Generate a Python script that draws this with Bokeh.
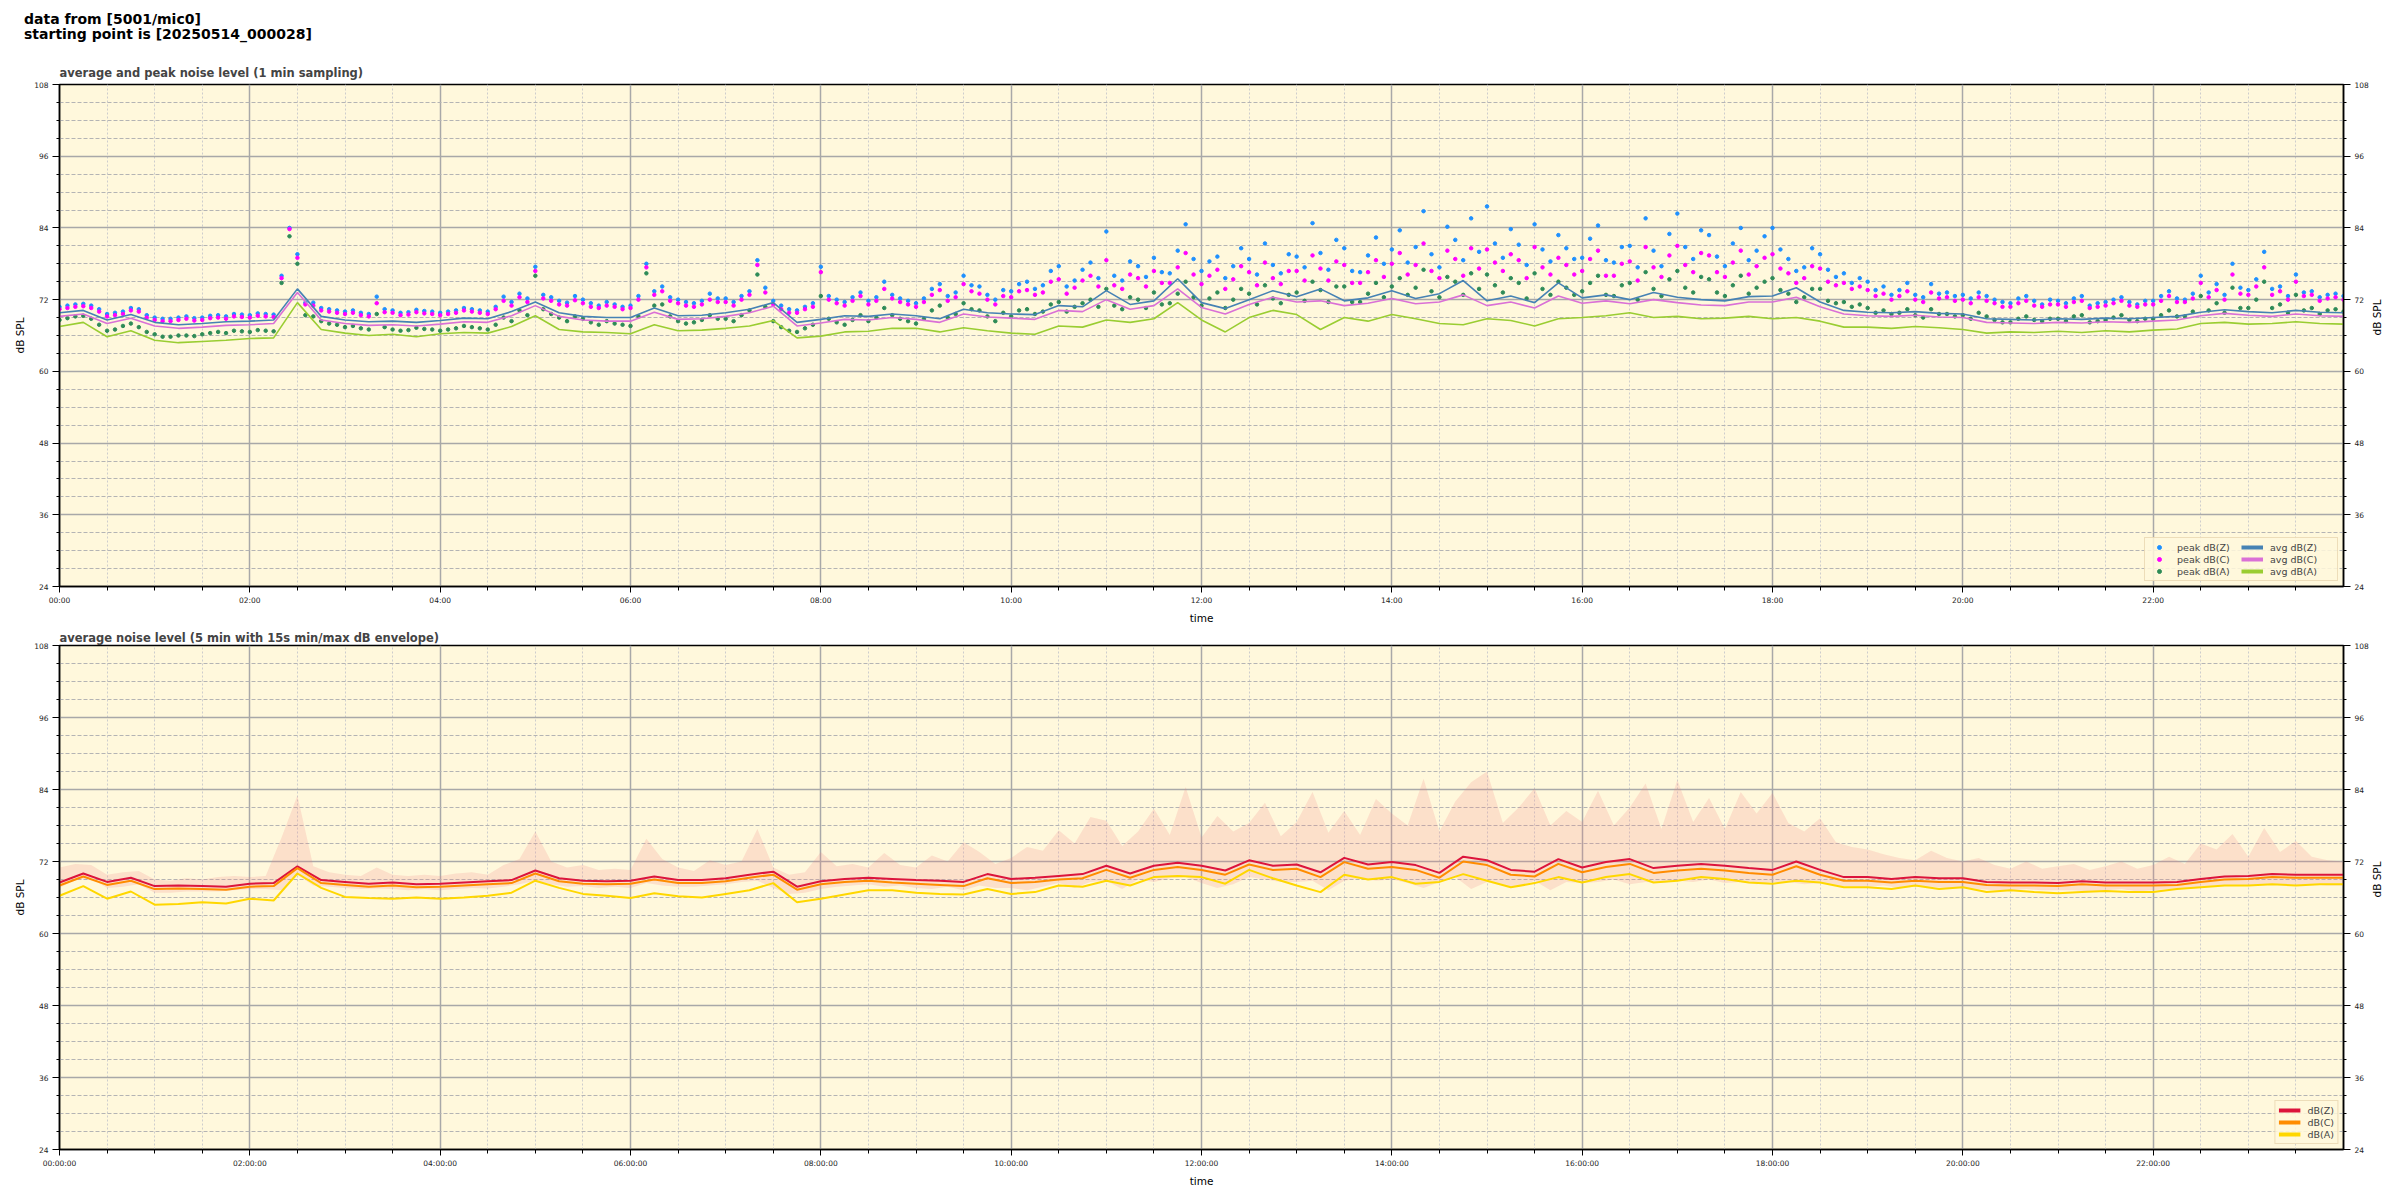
import math
import numpy as np
from bokeh.plotting import figure
from bokeh.layouts import column
from bokeh.models import (Div, FixedTicker, LinearAxis, Range1d, Legend, LegendItem)
from bokeh.embed import file_html
from bokeh.resources import INLINE

# ---------------- data ----------------
# top panel: 1-min averages, sampled here every 15 min (00:00 .. 24:00)
avg_z = [69.8, 70.2, 68.6, 69.5,  68.2, 67.8, 68.0, 68.3,  68.4, 68.6, 73.8, 69.2,
         68.6, 68.3, 68.4, 68.2,  68.5, 68.9, 68.8, 70.0,  71.6, 69.8, 69.2, 69.0,
         69.0, 70.6, 69.3, 69.4,  69.8, 70.4, 71.5, 68.2,  68.7, 69.3, 69.2, 69.6,
         69.3, 68.8, 70.4, 69.8,  69.6, 69.5, 71.0, 70.8,  73.5, 71.2, 71.8, 75.5,
         71.5, 70.5, 72.0, 73.5,  72.5, 73.8, 71.8, 72.3,  73.5, 72.2, 73.0, 75.2,
         71.8, 72.6, 71.5, 74.8,  72.3, 72.8, 72.0, 73.2,  72.4, 72.0, 71.8, 72.5,
         72.6, 74.0, 71.6, 70.2,  69.9, 69.8, 70.0, 69.7,  69.6, 68.8, 68.7, 68.6,
         68.8, 68.7, 68.9, 68.8,  69.0, 69.2, 69.9, 70.3,  70.0, 69.8, 70.2, 69.9,
         69.8]
avg_c = [69.2, 69.6, 68.0, 68.9,  67.6, 67.2, 67.4, 67.7,  67.8, 68.0, 73.2, 68.6,
         68.0, 67.7, 67.8, 67.6,  67.9, 68.3, 68.2, 69.3,  71.0, 69.2, 68.6, 68.4,
         68.4, 69.9, 68.7, 68.8,  69.2, 69.8, 70.9, 67.6,  68.1, 68.7, 68.6, 69.0,
         68.7, 68.2, 69.6, 69.1,  68.9, 68.7, 70.2, 70.0,  72.0, 70.4, 71.0, 73.8,
         70.7, 69.6, 71.2, 72.4,  71.6, 71.8, 71.0, 71.4,  72.2, 71.3, 71.6, 72.8,
         71.0, 71.6, 70.6, 72.6,  71.4, 71.8, 71.3, 72.0,  71.5, 71.1, 71.0, 71.6,
         71.6, 72.4, 70.8, 69.6,  69.3, 69.2, 69.4, 69.1,  69.0, 68.2, 68.1, 68.0,
         68.2, 68.1, 68.3, 68.2,  68.4, 68.6, 69.3, 69.7,  69.4, 69.2, 69.6, 69.3,
         69.2]
avg_a = [67.5, 68.2, 65.8, 66.8,  65.2, 64.8, 65.0, 65.2,  65.5, 65.6, 71.5, 67.0,
         66.4, 66.0, 66.2, 65.8,  66.3, 66.5, 66.4, 67.5,  69.3, 67.0, 66.6, 66.5,
         66.3, 67.8, 66.8, 66.9,  67.2, 67.6, 68.5, 65.6,  65.9, 66.6, 66.7, 67.2,
         67.2, 66.6, 67.3, 66.8,  66.4, 66.2, 67.6, 67.4,  68.6, 68.2, 68.8, 71.5,
         68.6, 66.6, 69.0, 70.2,  69.5, 67.0, 69.0, 68.4,  69.5, 68.8, 68.0, 67.8,
         68.8, 68.5, 67.6, 68.8,  69.0, 69.3, 69.8, 69.0,  69.2, 68.8, 68.9, 69.2,
         68.8, 69.0, 68.4, 67.4,  67.4, 67.2, 67.5, 67.3,  67.0, 66.4, 66.6, 66.5,
         66.7, 66.5, 66.8, 66.6,  66.9, 67.1, 68.0, 68.2,  67.9, 68.0, 68.3, 68.0,
         67.9]

# top panel: peak levels, sampled here every 5 min (00:00 .. 24:00)
peak_z = [
    70.8, 71.0, 71.2, 71.3, 71.0, 70.4, 69.6, 69.8, 70.0, 70.6, 70.4, 69.4,
    69.0, 68.8, 68.8, 69.0, 69.2, 68.9, 69.0, 69.3, 69.4, 69.2, 69.6, 69.5,
    69.4, 69.7, 69.6, 69.5, 76.0, 84.0, 79.6, 71.5, 71.5, 70.6, 70.4, 70.2,
    70.0, 70.2, 69.8, 69.6, 72.5, 70.4, 70.2, 69.8, 69.9, 70.3, 70.1, 70.0,
    69.8, 70.0, 70.2, 70.6, 70.4, 70.2, 70.0, 70.8, 72.5, 71.6, 73.0, 72.2,
    77.5, 72.8, 72.4, 71.8, 71.5, 72.6, 72.0, 71.4, 71.0, 71.6, 71.2, 70.8,
    71.0, 72.6, 78.0, 73.4, 74.2, 72.4, 72.0, 71.6, 71.4, 71.8, 73.0, 72.2,
    72.2, 71.6, 72.6, 73.4, 78.6, 74.0, 71.8, 71.0, 70.4, 70.2, 70.8, 71.4,
    77.5, 72.6, 72.0, 71.6, 72.4, 73.2, 71.8, 72.4, 75.0, 72.8, 72.2, 71.8,
    71.4, 72.2, 73.8, 74.6, 72.6, 73.2, 76.0, 74.4, 74.2, 72.8, 72.0, 73.6,
    73.4, 74.6, 75.0, 73.8, 74.4, 76.8, 77.6, 74.2, 75.2, 77.0, 78.2, 75.6,
    83.4, 76.0, 75.2, 78.4, 77.6, 75.8, 79.0, 76.6, 76.4, 80.2, 84.6, 78.8,
    76.8, 78.4, 79.2, 75.6, 77.6, 80.6, 78.8, 76.2, 81.4, 77.8, 76.4, 79.6,
    79.2, 77.4, 84.8, 79.8, 77.0, 82.0, 80.6, 76.8, 76.6, 79.4, 82.4, 78.0,
    80.4, 83.6, 78.2, 80.8, 86.8, 79.6, 77.4, 84.2, 82.0, 78.6, 85.6, 80.0,
    87.6, 81.4, 79.0, 83.8, 81.2, 77.8, 84.6, 80.4, 78.4, 82.8, 80.6, 78.8,
    79.0, 82.2, 84.4, 78.6, 78.2, 80.8, 81.0, 77.4, 85.6, 80.2, 77.6, 83.0,
    86.4, 80.8, 78.8, 83.6, 82.8, 79.2, 77.6, 81.4, 84.0, 78.6, 80.2, 82.6,
    84.0, 80.4, 78.8, 76.8, 77.4, 80.6, 79.6, 77.0, 75.8, 76.4, 74.8, 75.6,
    75.0, 73.6, 74.2, 72.8, 73.6, 74.8, 72.8, 72.4, 74.6, 73.0, 73.2, 72.6,
    72.8, 72.2, 73.2, 72.6, 72.0, 71.6, 71.4, 72.2, 72.6, 71.8, 71.2, 72.0,
    71.8, 71.4, 72.2, 72.6, 71.0, 71.4, 71.6, 72.0, 72.4, 71.6, 71.2, 71.8,
    71.8, 72.6, 73.4, 72.2, 72.0, 73.0, 76.0, 73.2, 74.6, 72.8, 78.0, 74.0,
    73.6, 75.4, 80.0, 73.8, 74.2, 72.6, 76.2, 73.2, 73.4, 72.4, 72.8, 73.0,
    72.6]
peak_c = [
    70.4, 70.6, 70.8, 70.9, 70.6, 70.0, 69.2, 69.4, 69.6, 70.2, 70.0, 69.0,
    68.6, 68.4, 68.4, 68.6, 68.8, 68.5, 68.6, 68.9, 69.0, 68.8, 69.2, 69.1,
    69.0, 69.3, 69.2, 69.1, 75.6, 83.8, 79.0, 71.2, 71.0, 70.2, 70.0, 69.8,
    69.6, 69.8, 69.4, 69.2, 71.4, 69.9, 69.8, 69.4, 69.5, 69.9, 69.7, 69.6,
    69.4, 69.6, 69.8, 70.2, 70.0, 69.8, 69.6, 70.4, 71.8, 71.0, 72.4, 71.6,
    76.8, 72.2, 71.8, 71.2, 71.0, 71.9, 71.4, 70.8, 70.6, 71.0, 70.8, 70.4,
    70.6, 72.0, 77.4, 72.8, 73.4, 71.8, 71.4, 71.0, 70.8, 71.2, 72.0, 71.6,
    71.6, 71.0, 72.0, 72.8, 77.8, 73.2, 71.2, 70.4, 69.8, 69.8, 70.4, 70.8,
    76.6, 72.0, 71.4, 71.0, 71.8, 72.6, 71.2, 71.8, 73.8, 72.2, 71.6, 71.2,
    70.8, 71.6, 72.8, 73.6, 71.8, 72.4, 74.6, 73.4, 73.0, 72.0, 71.2, 72.6,
    72.4, 73.4, 73.6, 72.8, 73.2, 75.0, 75.4, 73.0, 74.0, 75.2, 76.0, 74.2,
    78.6, 74.4, 73.8, 76.2, 75.6, 74.2, 76.8, 74.8, 74.8, 77.4, 79.8, 76.2,
    74.6, 76.0, 77.0, 73.8, 75.4, 77.6, 76.6, 74.4, 78.2, 75.6, 74.6, 76.8,
    76.8, 75.2, 79.4, 77.2, 75.2, 78.4, 77.8, 74.8, 74.8, 76.6, 78.6, 75.8,
    78.0, 79.8, 76.2, 77.8, 81.4, 76.8, 75.6, 80.2, 78.8, 76.0, 80.6, 77.2,
    80.4, 78.2, 76.8, 79.6, 78.6, 75.6, 80.8, 77.4, 76.2, 79.0, 77.8, 76.2,
    76.8, 78.8, 80.2, 76.0, 76.0, 78.0, 78.4, 75.2, 80.8, 77.4, 75.8, 79.4,
    81.0, 77.8, 76.6, 79.8, 79.4, 76.6, 75.8, 78.2, 80.2, 76.2, 77.6, 79.0,
    79.6, 77.2, 76.4, 74.8, 75.6, 77.6, 77.2, 75.0, 74.4, 74.8, 73.8, 74.2,
    73.6, 72.6, 73.0, 72.0, 72.6, 73.4, 72.0, 71.6, 73.2, 72.2, 72.4, 71.8,
    72.0, 71.4, 72.4, 71.8, 71.4, 70.8, 70.8, 71.4, 71.8, 71.0, 70.8, 71.2,
    71.2, 70.8, 71.6, 71.8, 70.6, 70.8, 71.0, 71.4, 71.8, 71.0, 70.8, 71.2,
    71.2, 71.8, 72.6, 71.6, 71.6, 72.2, 74.8, 72.4, 73.6, 72.0, 76.2, 73.0,
    72.8, 74.2, 77.4, 72.8, 73.4, 72.0, 75.0, 72.6, 72.8, 71.8, 72.2, 72.4,
    72.0]
peak_a = [
    68.6, 68.9, 69.2, 69.3, 68.8, 67.8, 66.8, 67.0, 67.6, 68.0, 67.4, 66.6,
    66.2, 65.8, 65.8, 66.0, 66.0, 65.9, 66.2, 66.4, 66.6, 66.4, 66.8, 66.7,
    66.6, 66.9, 66.8, 66.7, 74.8, 82.6, 78.0, 69.4, 69.2, 68.4, 68.0, 67.8,
    67.4, 67.6, 67.2, 67.0, 69.6, 67.4, 67.0, 66.8, 66.9, 67.3, 67.1, 67.0,
    66.8, 67.0, 67.2, 67.6, 67.4, 67.2, 67.0, 67.8, 69.0, 68.4, 70.2, 69.4,
    76.0, 70.4, 69.6, 69.0, 68.4, 69.2, 68.8, 68.2, 67.8, 68.4, 68.0, 67.8,
    67.6, 69.2, 76.4, 71.0, 71.2, 69.2, 68.4, 68.0, 68.2, 68.6, 69.4, 68.8,
    68.8, 68.4, 69.4, 70.2, 76.2, 70.8, 68.4, 67.4, 66.8, 66.6, 67.2, 67.8,
    72.6, 68.8, 68.2, 67.8, 68.6, 69.4, 68.4, 69.0, 70.6, 69.4, 68.8, 68.4,
    68.0, 68.8, 70.2, 71.0, 69.0, 69.6, 71.4, 70.4, 70.2, 69.2, 68.4, 69.8,
    69.2, 70.2, 70.4, 69.6, 70.0, 71.2, 71.6, 70.0, 70.8, 71.4, 72.0, 70.8,
    73.8, 71.0, 70.4, 72.4, 72.0, 70.6, 73.2, 71.2, 71.4, 73.0, 75.0, 72.4,
    71.0, 72.2, 73.2, 70.6, 72.0, 73.8, 73.0, 71.2, 74.4, 72.2, 71.4, 72.8,
    73.2, 71.8, 75.0, 73.6, 71.6, 74.2, 74.2, 71.6, 71.6, 73.0, 74.8, 72.4,
    74.2, 75.6, 72.8, 74.0, 77.0, 73.4, 72.4, 75.8, 75.0, 72.8, 76.4, 73.8,
    76.2, 74.4, 73.2, 75.6, 74.8, 72.2, 76.4, 73.8, 72.8, 75.0, 74.0, 72.8,
    73.4, 74.8, 76.0, 72.8, 72.6, 74.4, 74.8, 72.0, 76.6, 73.8, 72.6, 75.4,
    76.8, 74.0, 73.2, 75.8, 75.4, 73.2, 72.6, 74.4, 76.0, 73.0, 74.0, 75.0,
    75.6, 73.6, 73.0, 71.6, 72.4, 73.8, 73.8, 71.8, 71.4, 71.6, 70.8, 71.2,
    70.6, 69.8, 70.2, 69.6, 69.8, 70.4, 69.4, 69.0, 70.4, 69.6, 69.6, 69.2,
    69.4, 68.8, 69.8, 69.2, 68.6, 68.2, 68.2, 68.8, 69.2, 68.6, 68.4, 68.8,
    68.8, 68.4, 69.2, 69.4, 68.2, 68.4, 68.6, 69.0, 69.4, 68.6, 68.4, 68.8,
    68.8, 69.4, 70.2, 69.2, 69.2, 70.0, 72.6, 70.2, 71.4, 69.8, 74.0, 70.6,
    70.6, 72.0, 75.0, 70.6, 71.2, 69.8, 72.8, 70.2, 70.6, 69.6, 70.2, 70.4,
    70.0]

# bottom panel: 5-min averages, sampled here every 15 min (00:00 .. 24:00)
db_z = [68.5, 70.0, 68.6, 69.3,  67.9, 68.0, 67.9, 67.8,  68.3, 68.4, 71.2, 68.9,
        68.6, 68.3, 68.5, 68.2,  68.3, 68.5, 68.7, 68.9,  70.5, 69.2, 68.8, 68.7,
        68.8, 69.5, 68.9, 68.9,  69.2, 69.8, 70.3, 67.8,  68.7, 69.1, 69.3, 69.1,
        68.9, 68.8, 68.6, 69.9,  69.1, 69.3, 69.6, 69.9,  71.3, 70.0, 71.3, 71.8,
        71.3, 70.5, 72.2, 71.3,  71.5, 70.2, 72.6, 71.5,  71.9, 71.4, 70.1, 72.8,
        72.2, 70.6, 70.3, 72.4,  71.0, 71.9, 72.4, 70.9,  71.3, 71.6, 71.3, 70.9,
        70.6, 72.0, 70.6, 69.4,  69.4, 69.1, 69.4, 69.2,  69.2, 68.6, 68.5, 68.5,
        68.4, 68.7, 68.5, 68.5,  68.5, 68.6, 69.1, 69.5,  69.6, 69.9, 69.8, 69.8,
        69.8]
db_c = [68.0, 69.5, 68.1, 68.8,  67.4, 67.5, 67.4, 67.3,  67.8, 67.9, 70.9, 68.4,
        68.1, 67.8, 68.0, 67.7,  67.8, 68.0, 68.2, 68.4,  70.0, 68.7, 68.3, 68.2,
        68.3, 69.0, 68.4, 68.4,  68.7, 69.3, 69.8, 67.3,  68.2, 68.6, 68.8, 68.5,
        68.3, 68.1, 67.9, 69.2,  68.4, 68.6, 69.0, 69.2,  70.6, 69.3, 70.6, 71.1,
        70.6, 69.8, 71.5, 70.6,  70.8, 69.4, 71.9, 70.8,  71.1, 70.6, 69.3, 72.0,
        71.4, 69.8, 69.5, 71.6,  70.2, 71.1, 71.6, 70.1,  70.5, 70.8, 70.5, 70.1,
        69.8, 71.2, 69.8, 68.8,  68.8, 68.5, 68.8, 68.6,  68.6, 68.1, 68.0, 68.0,
        67.9, 68.2, 68.0, 68.0,  68.0, 68.1, 68.6, 69.0,  69.1, 69.4, 69.3, 69.3,
        69.3]
db_a = [66.3, 67.9, 65.8, 67.0,  64.8, 64.9, 65.2, 65.0,  65.8, 65.5, 70.0, 67.6,
        66.1, 65.9, 65.8, 66.0,  65.8, 66.0, 66.3, 66.8,  68.8, 67.6, 66.6, 66.3,
        65.9, 66.7, 66.2, 66.0,  66.6, 67.2, 68.4, 65.2,  65.8, 66.5, 67.2, 67.2,
        66.8, 66.6, 66.5, 67.4,  66.6, 66.9, 68.0, 67.8,  68.8, 68.0, 69.4, 69.6,
        69.4, 68.3, 70.6, 69.2,  68.0, 66.9, 69.8, 69.0,  69.4, 68.3, 68.6, 69.9,
        68.8, 67.7, 68.4, 69.4,  68.5, 69.4, 69.9, 68.5,  68.8, 69.4, 69.1, 68.5,
        68.3, 68.8, 68.5, 67.7,  67.7, 67.4, 68.0, 67.4,  67.7, 66.9, 67.2, 66.9,
        66.7, 66.9, 67.1, 66.9,  66.9, 67.4, 67.7, 68.0,  68.0, 68.2, 68.0, 68.2,
        68.2]

# bottom panel: 15 s min/max envelope, sampled here every 10 min (00:00 .. 24:00)
env_hi = [71.0, 71.6, 71.4, 69.8, 70.2, 70.4,  69.0, 68.8, 69.2, 69.0, 69.4, 69.6,
          69.4, 69.6, 76.0, 83.0, 71.2, 70.2,  69.8, 69.6, 71.0, 69.8, 69.6, 69.8,
          69.6, 70.0, 70.2, 69.8, 71.4, 72.4,  77.0, 72.0, 71.0, 71.4, 70.6, 70.8,
          70.6, 75.8, 72.4, 71.0, 70.4, 72.2,  71.4, 72.0, 77.4, 71.0, 69.8, 70.2,
          73.6, 71.2, 71.6, 71.0, 73.4, 71.4,  71.0, 73.0, 72.0, 75.2, 73.6, 71.6,
          72.6, 74.4, 73.8, 77.2, 75.0, 79.4,  78.8, 74.6, 77.0, 80.8, 76.4, 84.4,
          76.0, 79.6, 77.0, 78.4, 81.8, 76.2,  78.6, 83.6, 76.8, 80.4, 76.4, 82.4,
          80.0, 78.0, 85.8, 77.0, 82.0, 85.2,  87.0, 78.4, 81.0, 84.2, 78.0, 80.4,
          78.6, 83.8, 78.0, 81.0, 85.0, 77.4,  85.6, 78.6, 82.6, 77.4, 83.6, 80.0,
          83.4, 78.4, 77.0, 79.2, 75.2, 74.4,  74.0, 73.2, 72.6, 72.2, 73.8, 72.6,
          72.0, 72.6, 71.4, 70.8, 72.0, 70.8,  71.2, 71.6, 70.6, 71.2, 72.0, 70.8,
          71.4, 72.8, 71.6, 75.0, 74.0, 76.6,  72.8, 77.6, 73.6, 75.4, 72.8, 72.2,
          72.0]
env_lo = [67.6, 69.0, 69.2, 67.6, 67.8, 68.2,  66.8, 66.8, 67.0, 67.0, 67.0, 67.2,
          67.4, 67.4, 67.2, 69.8, 68.0, 67.8,  67.6, 67.4, 67.5, 67.4, 67.2, 67.4,
          67.2, 67.4, 67.6, 67.5, 67.8, 68.2,  68.8, 68.2, 67.8, 67.9, 67.6, 67.8,
          67.6, 68.4, 68.0, 67.8, 67.8, 68.0,  68.2, 68.6, 68.8, 67.6, 66.6, 66.8,
          67.4, 67.8, 68.0, 68.2, 67.8, 68.0,  67.6, 67.4, 67.8, 67.2, 68.0, 67.6,
          67.6, 67.2, 67.8, 68.4, 67.6, 68.6,  68.8, 67.4, 69.0, 68.6, 69.2, 69.4,
          68.4, 67.6, 68.2, 69.4, 69.0, 68.6,  68.6, 68.8, 67.2, 68.8, 69.2, 68.8,
          69.0, 68.4, 67.6, 68.6, 69.4, 67.4,  68.6, 68.0, 67.8, 68.8, 67.2, 68.6,
          68.4, 68.6, 69.0, 68.2, 68.6, 68.4,  68.8, 68.6, 69.0, 68.4, 68.6, 68.2,
          68.6, 68.6, 68.2, 68.4, 68.0, 67.8,  67.8, 68.0, 67.6, 67.8, 67.8, 67.6,
          67.6, 67.4, 67.2, 67.2, 67.4, 67.2,  67.2, 67.2, 67.0, 67.2, 67.4, 67.0,
          67.2, 67.4, 67.6, 67.8, 68.0, 68.0,  68.0, 68.2, 68.2, 68.0, 68.2, 68.0,
          68.0]

hour_ticks = [0, 2, 4, 6, 8, 10, 12, 14, 16, 18, 20, 22]
top_tick_labels = ["00:00", "02:00", "04:00", "06:00", "08:00", "10:00",
                   "12:00", "14:00", "16:00", "18:00", "20:00", "22:00"]
bottom_tick_labels = ["00:00:00", "02:00:00", "04:00:00", "06:00:00", "08:00:00", "10:00:00",
                      "12:00:00", "14:00:00", "16:00:00", "18:00:00", "20:00:00", "22:00:00"]
db_major = [24, 36, 48, 60, 72, 84, 96, 108]

# time axes (hours) derived from each series' sampling step
t15 = np.arange(len(avg_z)) * 0.25
t10 = np.arange(len(env_hi)) / 6.0
t5 = np.arange(len(peak_z)) / 12.0

FONT = "DejaVu Sans"
BG = "#fff8dc"
NAN1 = [np.nan]   # legend-only proxy renderers (draw nothing in the plot)


def style(p, tick_labels):
    p.background_fill_color = BG
    p.border_fill_color = "white"
    p.outline_line_color = "black"
    p.outline_line_width = 1.5
    xt = FixedTicker(ticks=hour_ticks,
                     minor_ticks=[h / 2 for h in range(0, 49) if h % 4 != 0])
    yt = FixedTicker(ticks=db_major,
                     minor_ticks=[v for v in range(24, 109, 3) if v % 12 != 0])
    p.xaxis.ticker = xt
    p.yaxis.ticker = yt
    p.xaxis.major_label_overrides = {h: s for h, s in zip(hour_ticks, tick_labels)}
    raxis = LinearAxis(ticker=yt, axis_label="dB SPL")
    raxis.axis_label_orientation = math.pi / 2
    p.add_layout(raxis, "right")
    for ax in p.xaxis + p.yaxis:
        ax.axis_line_color = "black"
        ax.axis_line_width = 1.5
        ax.major_tick_in = 0
        ax.minor_tick_in = 0
        ax.major_tick_line_color = "black"
        ax.minor_tick_line_color = "black"
        ax.major_label_text_font = FONT
        ax.major_label_text_font_size = "7.5px"
        ax.major_label_text_color = "#222222"
        ax.axis_label_text_font = FONT
        ax.axis_label_text_font_size = "10.5px"
        ax.axis_label_text_font_style = "normal"
        ax.axis_label_text_color = "black"
        ax.major_label_standoff = 4
        ax.axis_label_standoff = 5
    for ax in p.yaxis:
        ax.major_tick_out = 7
        ax.minor_tick_out = 3
    for ax in p.xaxis:
        ax.major_tick_out = 6
        ax.minor_tick_out = 4
        ax.major_label_standoff = 3
        ax.axis_label_standoff = 4
    p.xaxis.axis_label = "time"
    p.yaxis[0].axis_label = "dB SPL"
    p.xgrid.ticker = xt
    p.ygrid.ticker = yt
    for g in (p.xgrid, p.ygrid):
        g.grid_line_color = "#a8a8a8"
        g.grid_line_width = 1.5
    p.ygrid.minor_grid_line_color = "#b4b4b4"
    p.ygrid.minor_grid_line_dash = "4 2"
    p.ygrid.minor_grid_line_width = 1
    p.xgrid.minor_grid_line_color = "#cdcdcd"
    p.xgrid.minor_grid_line_dash = "2 2"
    p.xgrid.minor_grid_line_width = 1
    p.title.text_font = FONT
    p.title.text_font_size = "11.5px"
    p.title.text_font_style = "bold"
    p.title.align = "left"


def make_legend(items, **kw):
    lg = Legend(items=items, location="bottom_right", **kw)
    lg.label_text_font = FONT
    lg.label_text_font_size = "9.5px"
    lg.background_fill_color = BG
    lg.background_fill_alpha = 0.85
    lg.border_line_color = "#dcc296"
    lg.border_line_width = 1.5
    lg.glyph_width = 22
    lg.glyph_height = 10
    lg.label_height = 12
    lg.spacing = 0
    lg.padding = 3
    lg.margin = 5
    lg.label_standoff = 7
    return lg


# ---------------- header ----------------
header = Div(text=("<div style=\"font-family:'DejaVu Sans';font-weight:bold;font-size:14px;"
                   "line-height:15px;padding:12px 0 0 24px;color:black;\">"
                   "data from [5001/mic0]<br>starting point is [20250514_000028]</div>"),
             width=2392, height=58, margin=(0, 0, 0, 0))

# ---------------- top panel ----------------
p1 = figure(width=2392, height=568, output_backend="svg", toolbar_location=None,
            x_range=Range1d(0, 24), y_range=Range1d(24, 108),
            title="average and peak noise level (1 min sampling)",
            min_border_left=59, min_border_right=49, min_border_top=26, min_border_bottom=38)
style(p1, top_tick_labels)
p1.title.standoff = 9

sz = p1.scatter(t5, peak_z, size=3.5, color="#1e90ff", marker="circle")
sc = p1.scatter(t5, peak_c, size=3.5, color="#ff00ff", marker="circle")
sa = p1.scatter(t5, peak_a, size=3.5, color="#2e8b57", marker="circle")
p1.line(t15, avg_z, line_color="#4682b4", line_width=1.6)
p1.line(t15, avg_c, line_color="#da70d6", line_width=1.6)
p1.line(t15, avg_a, line_color="#9acd32", line_width=1.6)
lz = p1.line(NAN1, NAN1, line_color="#4682b4", line_width=4)
lc = p1.line(NAN1, NAN1, line_color="#da70d6", line_width=4)
la = p1.line(NAN1, NAN1, line_color="#9acd32", line_width=4)
leg1 = make_legend([LegendItem(label="peak dB(Z)", renderers=[sz]),
                    LegendItem(label="peak dB(C)", renderers=[sc]),
                    LegendItem(label="peak dB(A)", renderers=[sa]),
                    LegendItem(label="avg dB(Z)", renderers=[lz]),
                    LegendItem(label="avg dB(C)", renderers=[lc]),
                    LegendItem(label="avg dB(A)", renderers=[la])],
                   nrows=3)
leg1.label_width = 64
p1.add_layout(leg1)

# ---------------- bottom panel ----------------
p2 = figure(width=2392, height=563, output_backend="svg", toolbar_location=None,
            x_range=Range1d(0, 24), y_range=Range1d(24, 108),
            title="average noise level (5 min with 15s min/max dB envelope)",
            min_border_left=59, min_border_right=49, min_border_top=19, min_border_bottom=40)
style(p2, bottom_tick_labels)
p2.title.standoff = 2

p2.varea(x=t10, y1=env_lo, y2=env_hi, fill_color="#f08080", fill_alpha=0.2)
p2.line(t15, db_z, line_color="#dc143c", line_width=2)
p2.line(t15, db_c, line_color="#ff8c00", line_width=2)
p2.line(t15, db_a, line_color="#ffd700", line_width=2)
bz = p2.line(NAN1, NAN1, line_color="#dc143c", line_width=4)
bc = p2.line(NAN1, NAN1, line_color="#ff8c00", line_width=4)
ba = p2.line(NAN1, NAN1, line_color="#ffd700", line_width=4)
leg2 = make_legend([LegendItem(label="dB(Z)", renderers=[bz]),
                    LegendItem(label="dB(C)", renderers=[bc]),
                    LegendItem(label="dB(A)", renderers=[ba])])
p2.add_layout(leg2)

layout = column(header, p1, p2, spacing=0)
open("out.html", "w").write(file_html(layout, INLINE))
